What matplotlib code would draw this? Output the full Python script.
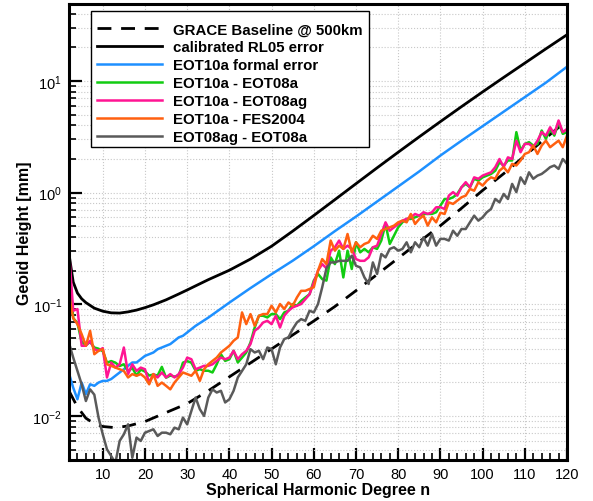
import numpy as np
import matplotlib
matplotlib.use('Agg')
import matplotlib.pyplot as plt
from matplotlib.ticker import MultipleLocator, LogLocator, NullFormatter
from matplotlib.patches import Rectangle

plt.rcParams['font.family'] = ['Liberation Sans', 'DejaVu Sans']
plt.rcParams['mathtext.fontset'] = 'custom'
plt.rcParams['mathtext.rm'] = 'Liberation Sans'
plt.rcParams['mathtext.it'] = 'Liberation Sans'
plt.rcParams['mathtext.bf'] = 'Liberation Sans:bold'
plt.rcParams['mathtext.default'] = 'regular'

# ---------------- data ----------------
degrees = np.arange(2, 121)

grace_n = [2, 4, 6, 8, 10, 13, 16, 20, 25, 30, 35, 40, 45, 50, 55, 60, 65, 70, 75,
           80, 85, 90, 95, 100, 105, 110, 115, 120]
grace_baseline = [0.01675, 0.01202, 0.00955, 0.00851, 0.00804, 0.00785, 0.00813, 0.00891,
                  0.01072, 0.01288, 0.01679, 0.02239, 0.02985, 0.03981, 0.05309, 0.07079,
                  0.09550, 0.1324, 0.1849, 0.2588, 0.3631, 0.5058, 0.7244, 1.047, 1.479,
                  2.138, 3.090, 4.426]

rl05_n = [2, 3, 4, 5, 6, 8, 10, 12, 14, 16, 18, 20, 22, 25, 28, 30, 32, 35, 40, 45, 50,
          55, 60, 65, 70, 75, 80, 85, 90, 95, 100, 105, 110, 115, 120]
rl05_error = [0.282, 0.158, 0.126, 0.112, 0.1035, 0.0923, 0.0867, 0.0838, 0.0834, 0.0855,
              0.0887, 0.0933, 0.0989, 0.1096, 0.1236, 0.1343, 0.1462, 0.1660, 0.2018,
              0.2541, 0.3311, 0.4519, 0.6237, 0.8650, 1.202, 1.667, 2.301, 3.162, 4.325,
              5.888, 7.980, 10.76, 14.45, 19.41, 25.94]

formal_n = list(range(2, 33)) + [35, 40, 45, 50, 55, 60, 65, 70, 75, 80, 85, 90, 95, 100,
                                 105, 110, 115, 120]
formal_error = [0.024, 0.0179, 0.0141, 0.0199, 0.0157, 0.0192, 0.0186, 0.0199, 0.0206,
                0.0206, 0.0214, 0.0229, 0.0245, 0.0262, 0.0281, 0.0301, 0.0301, 0.0322,
                0.0345, 0.0357, 0.037, 0.0396, 0.041, 0.0425, 0.044, 0.0471, 0.0505,
                0.0522, 0.0559, 0.0599, 0.0641,
                0.0759, 0.1035, 0.1396, 0.186, 0.2455, 0.331, 0.452, 0.610, 0.832, 1.135,
                1.549, 2.148, 2.917, 3.936, 5.309, 7.161, 9.661, 13.40]

eot10a_eot08a = [
    0.22, 0.075, 0.068, 0.046, 0.043, 0.046, 0.041, 0.040, 0.038, 0.030,
    0.031, 0.030, 0.028, 0.029, 0.025, 0.027, 0.023, 0.026, 0.025, 0.023,
    0.0235, 0.023, 0.0275, 0.022, 0.023, 0.0225, 0.023, 0.030, 0.031, 0.030,
    0.0254, 0.0262, 0.0254, 0.0254, 0.0245, 0.029, 0.0357, 0.0311, 0.0322, 0.0383,
    0.0301, 0.0333, 0.037, 0.0455, 0.0619, 0.0789, 0.0789, 0.0762, 0.0817, 0.0817,
    0.0736, 0.0845, 0.0875, 0.1005, 0.097, 0.107, 0.115, 0.123, 0.163, 0.187,
    0.168, 0.163, 0.263, 0.229, 0.302, 0.174, 0.302, 0.207, 0.359, 0.292,
    0.313, 0.292, 0.324, 0.313, 0.372, 0.524, 0.347, 0.411, 0.489, 0.542,
    0.581, 0.581, 0.601, 0.622, 0.644, 0.644, 0.644, 0.667, 0.764, 0.877,
    0.877, 0.908, 0.973, 1.117, 1.197, 1.117, 1.33, 1.28, 1.37, 1.42,
    1.47, 1.57, 1.87, 1.75, 1.94, 1.94, 3.48, 2.38, 2.73, 2.83,
    2.64, 2.73, 3.6, 3.03, 3.72, 3.24, 4.28, 3.36, 3.48]

eot10a_eot08ag = [
    0.30, 0.0875, 0.0906, 0.0425, 0.0425, 0.0471, 0.0396, 0.0383, 0.0405, 0.0221,
    0.0301, 0.0271, 0.0290, 0.0410, 0.0237, 0.0290, 0.0253, 0.0271, 0.0262, 0.0199,
    0.0237, 0.0221, 0.0245, 0.0221, 0.0237, 0.0221, 0.0237, 0.0271, 0.0333, 0.0322,
    0.0262, 0.0271, 0.0281, 0.0281, 0.0290, 0.0311, 0.0333, 0.0322, 0.0333, 0.0383,
    0.0322, 0.0357, 0.0383, 0.0440, 0.0578, 0.0619, 0.0687, 0.0711, 0.0664, 0.0789,
    0.0619, 0.0789, 0.0875, 0.0938, 0.0970, 0.1005, 0.111, 0.123, 0.157, 0.200,
    0.229, 0.210, 0.302, 0.324, 0.372, 0.313, 0.335, 0.313, 0.254, 0.245,
    0.245, 0.263, 0.324, 0.335, 0.426, 0.542, 0.456, 0.489, 0.524, 0.561,
    0.581, 0.601, 0.644, 0.622, 0.667, 0.644, 0.667, 0.739, 0.74, 0.714,
    0.94, 1.01, 0.94, 1.117, 1.24, 1.117, 1.37, 1.33, 1.42, 1.47,
    1.52, 1.69, 2.0, 1.69, 2.07, 2.0, 2.92, 2.30, 2.73, 2.73,
    2.55, 2.92, 3.48, 3.24, 3.85, 3.36, 4.43, 3.48, 3.72]

eot10a_fes2004 = [
    0.12, 0.075, 0.0664, 0.054, 0.0425, 0.0578, 0.0357, 0.0383, 0.0396, 0.029,
    0.0281, 0.0271, 0.0262, 0.0253, 0.0221, 0.0237, 0.0229, 0.0237, 0.0221, 0.0192,
    0.0237, 0.0186, 0.0199, 0.0186, 0.0173, 0.0199, 0.0221, 0.0245, 0.0237, 0.0229,
    0.0254, 0.0206, 0.0262, 0.0290, 0.0311, 0.0333, 0.037, 0.0396, 0.0425, 0.0471,
    0.0505, 0.0845, 0.0664, 0.0817, 0.0641, 0.0789, 0.0817, 0.0817, 0.097, 0.0845,
    0.1005, 0.0906, 0.1038, 0.097, 0.115, 0.132, 0.132, 0.137, 0.142, 0.200,
    0.254, 0.229, 0.372, 0.302, 0.335, 0.313, 0.426, 0.292, 0.359, 0.324,
    0.347, 0.359, 0.411, 0.385, 0.456, 0.472, 0.489, 0.506, 0.542, 0.561,
    0.542, 0.644, 0.524, 0.581, 0.622, 0.506, 0.601, 0.542, 0.66, 0.644,
    0.818, 0.792, 0.848, 0.908, 0.94, 1.079, 1.04, 1.24, 1.156, 1.28,
    1.37, 1.33, 1.57, 1.69, 1.52, 1.81, 1.75, 1.94, 2.22, 2.30,
    2.64, 2.22, 2.64, 2.92, 2.55, 2.73, 2.92, 2.55, 3.24]

eot08ag_eot08a = [
    0.045, 0.0333, 0.0253, 0.0192, 0.0136, 0.0173, 0.0155, 0.00966, 0.00685, 0.00502,
    0.00437, 0.0038, 0.00597, 0.00685, 0.00841, 0.00422, 0.0064, 0.00597, 0.00708, 0.00733,
    0.00759, 0.00661, 0.00708, 0.00708, 0.00685, 0.00785, 0.00759, 0.00966, 0.00841, 0.0111,
    0.0146, 0.0115, 0.0100, 0.0146, 0.0173, 0.0162, 0.0168, 0.0132, 0.0141, 0.0168,
    0.0221, 0.0253, 0.029, 0.0396, 0.037, 0.0383, 0.0322, 0.041, 0.0396, 0.029,
    0.041, 0.0488, 0.0505, 0.0599, 0.0687, 0.0736, 0.0711, 0.0875, 0.0845, 0.1005,
    0.142, 0.21, 0.237, 0.237, 0.245, 0.245, 0.245, 0.272, 0.221, 0.214,
    0.174, 0.152, 0.237, 0.187, 0.282, 0.263, 0.313, 0.324, 0.302, 0.313,
    0.359, 0.292, 0.359, 0.324, 0.398, 0.335, 0.426, 0.335, 0.385, 0.385,
    0.372, 0.456, 0.411, 0.472, 0.472, 0.542, 0.622, 0.561, 0.601, 0.667,
    0.714, 0.877, 0.818, 0.973, 0.877, 1.197, 1.01, 1.37, 1.197, 1.52,
    1.33, 1.42, 1.47, 1.57, 1.69, 1.75, 1.63, 2.0, 1.81]

labels = ['GRACE Baseline @ 500km', 'calibrated RL05 error', 'EOT10a formal error',
          'EOT10a - EOT08a', 'EOT10a - EOT08ag', 'EOT10a - FES2004', 'EOT08ag - EOT08a']
colors = ['black', 'black', '#1e90ff', '#11cc11', '#ff1493', '#ff6010', '#5a5a5a']

# ---------------- figure ----------------
W, H = 593, 502
fig = plt.figure(figsize=(W / 100, H / 100), dpi=100)
ax_l, ax_r, ax_t, ax_b = 69, 567, 5, 461
ax = fig.add_axes([ax_l / W, 1 - ax_b / H, (ax_r - ax_l) / W, (ax_b - ax_t) / H])

lw = 1.8
l0, = ax.plot(grace_n, grace_baseline, color=colors[0], lw=2.0, label=labels[0])
l0.set_dashes([5, 3.5])
ax.plot(rl05_n, rl05_error, color=colors[1], lw=2.0, label=labels[1])
ax.plot(formal_n, formal_error, color=colors[2], lw=lw, label=labels[2])
ax.plot(degrees, eot10a_eot08a, color=colors[3], lw=lw, label=labels[3])
ax.plot(degrees, eot10a_eot08ag, color=colors[4], lw=lw, label=labels[4])
ax.plot(degrees, eot10a_fes2004, color=colors[5], lw=lw, label=labels[5])
ax.plot(degrees, eot08ag_eot08a, color=colors[6], lw=lw, label=labels[6])

ax.set_yscale('log')
ax.set_xlim(2, 120)
ax.set_ylim(0.00403, 48.9)

ax.xaxis.set_major_locator(MultipleLocator(10))
ax.xaxis.set_minor_locator(MultipleLocator(2))
ax.yaxis.set_major_locator(LogLocator(base=10, numticks=10))
ax.yaxis.set_minor_locator(LogLocator(base=10, subs=np.arange(2, 10), numticks=20))
ax.yaxis.set_minor_formatter(NullFormatter())

ax.grid(which='both', axis='y', linestyle=':', color='#c8c8c8', lw=0.8)
ax.grid(which='major', axis='x', linestyle=':', color='#c8c8c8', lw=0.8)
ax.set_axisbelow(True)

ax.tick_params(which='major', direction='in', length=9, width=1.6, top=False,
               right=False, labelsize=10.5, pad=5, colors='black')
ax.tick_params(which='minor', direction='in', length=5, width=1.2, top=False,
               right=False)
for s in ax.spines.values():
    s.set_linewidth(2.2)

ax.set_xlabel('Spherical Harmonic Degree n', fontsize=11.5, fontweight='bold', labelpad=1)
ax.set_ylabel('Geoid Height [mm]', fontsize=11.5, fontweight='bold', labelpad=0)

# legend box (frame drawn separately to match the reference padding)
bx0, bx1, by0, by1 = 91, 369, 12, 148
frame = Rectangle(((bx0 - ax_l) / (ax_r - ax_l), 1 - (by1 - ax_t) / (ax_b - ax_t)),
                  (bx1 - bx0) / (ax_r - ax_l), (by1 - by0) / (ax_b - ax_t),
                  transform=ax.transAxes, facecolor='white', edgecolor='black',
                  lw=1.0, zorder=4.5, clip_on=False)
ax.add_patch(frame)

leg = ax.legend(loc='upper left',
                bbox_to_anchor=((97 - ax_l) / (ax_r - ax_l), 1 - (23.5 - ax_t) / (ax_b - ax_t)),
                borderaxespad=0, frameon=False,
                prop={'weight': 'bold', 'size': 10.8}, handlelength=4.35,
                handletextpad=0.72, labelspacing=0.26, borderpad=0)
leg.set_zorder(5)

fig.savefig('out.png', dpi=100)
